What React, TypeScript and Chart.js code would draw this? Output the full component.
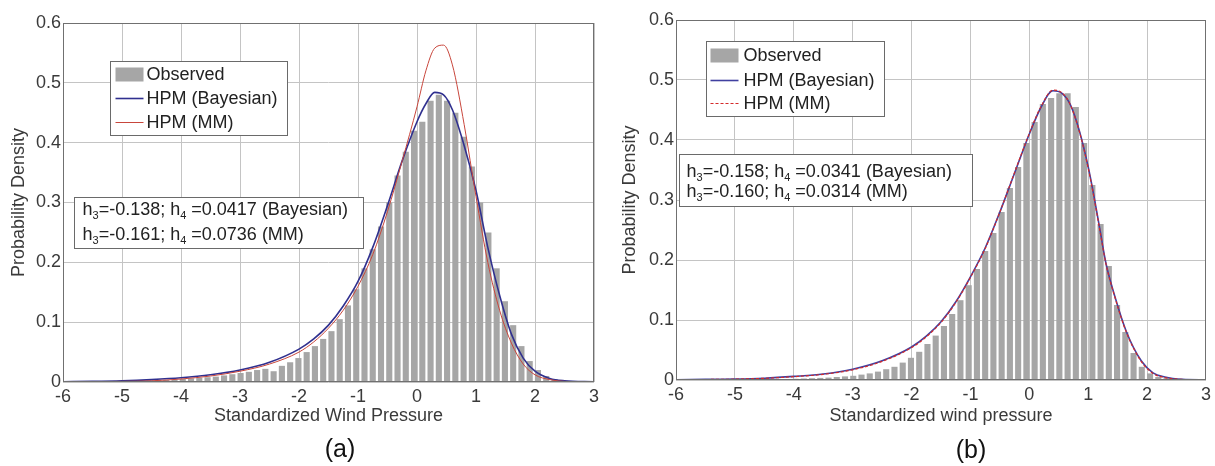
import React, { useEffect, useRef } from 'react';
import { Chart, registerables } from 'chart.js';

Chart.register(...registerables);

const FONT = '"Liberation Sans", Arial, Helvetica, sans-serif';
Chart.defaults.font.family = FONT;

// ---- axis ticks ----
const X_TICKS = [-6, -5, -4, -3, -2, -1, 0, 1, 2, 3];
const X_TICK_LABELS = ['-6', '-5', '-4', '-3', '-2', '-1', '0', '1', '2', '3'];
const Y_TICKS = [0, 0.1, 0.2, 0.3, 0.4, 0.5, 0.6];
const Y_TICK_LABELS = ['0', '0.1', '0.2', '0.3', '0.4', '0.5', '0.6'];

// ---- histogram bins (centers) ----
const BIN_CENTERS = [
  -5.93, -5.79, -5.65, -5.51, -5.37, -5.23, -5.09, -4.95, -4.81, -4.67, -4.53, -4.39, -4.25, -4.11,
  -3.97, -3.83, -3.69, -3.55, -3.41, -3.27, -3.13, -2.99, -2.85, -2.71, -2.57, -2.43, -2.29, -2.15,
  -2.01, -1.87, -1.73, -1.59, -1.45, -1.31, -1.17, -1.03, -0.89, -0.75, -0.61, -0.47, -0.33, -0.19,
  -0.05, 0.09, 0.23, 0.37, 0.51, 0.65, 0.79, 0.93, 1.07, 1.21, 1.35, 1.49, 1.63, 1.77, 1.91, 2.05,
  2.19, 2.33, 2.47, 2.61,
];

// ---- observed densities ----
const OBSERVED_A = [
  0.0005, 0.0005, 0.0008, 0.0008, 0.001, 0.001, 0.0012,
  0.0015, 0.002, 0.002, 0.0025, 0.003, 0.0035, 0.004,
  0.005, 0.006, 0.007, 0.008, 0.009, 0.011, 0.013,
  0.015, 0.017, 0.02, 0.022, 0.018, 0.027, 0.033, 0.04, 0.05, 0.06, 0.072, 0.085, 0.105, 0.128,
  0.155, 0.19, 0.222, 0.26, 0.3, 0.345, 0.385, 0.42, 0.435, 0.47, 0.48, 0.47, 0.45, 0.41, 0.36,
  0.3, 0.25, 0.19, 0.135, 0.095, 0.06, 0.035, 0.02, 0.01, 0.005, 0.003, 0.001,
];
const OBSERVED_B = [
  0.0002, 0.0002, 0.0003, 0.0003, 0.0004, 0.0004, 0.0005,
  0.0006, 0.0007, 0.0008, 0.001, 0.0012, 0.0014, 0.0017,
  0.002, 0.0025, 0.003, 0.0035, 0.004, 0.005, 0.006,
  0.007, 0.009, 0.011, 0.014, 0.018, 0.022, 0.029, 0.037, 0.047, 0.06, 0.074, 0.09, 0.11, 0.133,
  0.158, 0.185, 0.215, 0.245, 0.28, 0.32, 0.355, 0.395, 0.43, 0.46, 0.47, 0.478, 0.478, 0.455, 0.395,
  0.325, 0.26, 0.19, 0.125, 0.08, 0.045, 0.022, 0.011, 0.005, 0.003, 0.001, 0.0005,
];

// ---- fitted HPM curves ----
const CURVE_X_A = [-6, -5.5, -5, -4.5, -4, -3.5, -3, -2.5, -2, -1.75, -1.5, -1.25, -1, -0.75, -0.5, -0.25, 0, 0.15, 0.3, 0.45, 0.6, 0.8, 1, 1.2, 1.4, 1.6, 1.8, 2, 2.25, 2.5, 3];
const BAYES_A = [0.0005, 0.001, 0.002, 0.004, 0.007, 0.012, 0.02, 0.033, 0.055, 0.072, 0.095, 0.127, 0.168, 0.225, 0.295, 0.37, 0.435, 0.465, 0.484, 0.48, 0.455, 0.395, 0.32, 0.225, 0.145, 0.08, 0.04, 0.018, 0.006, 0.002, 0.0003];
const MM_A = [0.0003, 0.0006, 0.001, 0.002, 0.005, 0.01, 0.018, 0.03, 0.05, 0.067, 0.09, 0.12, 0.16, 0.213, 0.285, 0.37, 0.46, 0.52, 0.558, 0.563, 0.53, 0.43, 0.31, 0.2, 0.12, 0.065, 0.03, 0.012, 0.004, 0.001, 0.0001];

const CURVE_X_B = [-6, -5.5, -5, -4.5, -4, -3.5, -3, -2.5, -2, -1.75, -1.5, -1.25, -1, -0.75, -0.5, -0.25, 0, 0.2, 0.4, 0.55, 0.7, 0.85, 1, 1.1, 1.2, 1.3, 1.45, 1.65, 1.9, 2.1, 2.3, 2.6, 3];
const BAYES_B = [0.0005, 0.001, 0.0015, 0.003, 0.006, 0.01, 0.018, 0.032, 0.055, 0.073, 0.097, 0.13, 0.172, 0.22, 0.28, 0.345, 0.41, 0.455, 0.482, 0.478, 0.458, 0.415, 0.355, 0.305, 0.25, 0.195, 0.14, 0.08, 0.032, 0.012, 0.005, 0.001, 0.0002];
const MM_B = [0.0004, 0.0008, 0.0014, 0.0028, 0.0055, 0.0095, 0.017, 0.031, 0.054, 0.072, 0.096, 0.129, 0.171, 0.219, 0.28, 0.346, 0.411, 0.456, 0.483, 0.479, 0.458, 0.414, 0.353, 0.303, 0.248, 0.194, 0.139, 0.079, 0.031, 0.011, 0.004, 0.001, 0.0001];

// ---- texts ----
const LEGEND_LABELS = ['Observed', 'HPM (Bayesian)', 'HPM (MM)'];
const METHODS = ['Bayesian', 'MM'];
const H3_A = ['-0.138', '-0.161'];
const H4_A = ['0.0417', '0.0736'];
const H3_B = ['-0.158', '-0.160'];
const H4_B = ['0.0341', '0.0314'];
const Y_TITLE = 'Probability Density';
const X_TITLE_A = 'Standardized Wind Pressure';
const X_TITLE_B = 'Standardized wind pressure';
const CAPTIONS = ['(a)', '(b)'];

const BAR_COLOR = '#a6a6a6';
const TEXT_COLOR = '#3a3a3a';

type PanelCfg = {
  left: number;
  padTop: number;
  padRight: number;
  yWidth: number;
  xHeight: number;
  yTitlePad: number;
  xTitlePad: number;
  xTitle: string;
  caption: string;
  captionX: number;
  captionY: number;
  obs: number[];
  curveX: number[];
  bayes: number[];
  mm: number[];
  h3: string[];
  h4: string[];
  bayesColor: string;
  mmColor: string;
  mmWidth: number;
  mmDash: number[];
  legend: { dx: number; dy: number; w: number; h: number; rows: number[]; swX: number; swW: number; textX: number };
  annot: { dx: number; dy: number; w: number; h: number; rows: number[]; textX: number };
};

const PANELS: PanelCfg[] = [
  {
    left: 0, padTop: 23, padRight: 11, yWidth: 63, xHeight: 84, yTitlePad: 8, xTitlePad: 39,
    xTitle: X_TITLE_A, caption: CAPTIONS[0], captionX: 340, captionY: 450,
    obs: OBSERVED_A, curveX: CURVE_X_A, bayes: BAYES_A, mm: MM_A, h3: H3_A, h4: H4_A,
    bayesColor: '#30308f', mmColor: '#c8463c', mmWidth: 1, mmDash: [],
    legend: { dx: 47, dy: 38, w: 177, h: 74, rows: [13, 37, 61], swX: 5, swW: 28, textX: 36 },
    annot: { dx: 11, dy: 174, w: 289, h: 51, rows: [13, 38], textX: 8 },
  },
  {
    left: 610, padTop: 20, padRight: 6, yWidth: 66, xHeight: 86, yTitlePad: 9, xTitlePad: 39,
    xTitle: X_TITLE_B, caption: CAPTIONS[1], captionX: 361, captionY: 451,
    obs: OBSERVED_B, curveX: CURVE_X_B, bayes: BAYES_B, mm: MM_B, h3: H3_B, h4: H4_B,
    bayesColor: '#4040a0', mmColor: '#d42a2a', mmWidth: 1.2, mmDash: [3, 2],
    legend: { dx: 30, dy: 21, w: 178, h: 75, rows: [14, 39, 62], swX: 4, swW: 28, textX: 37 },
    annot: { dx: 3, dy: 134, w: 293, h: 52, rows: [18, 38], textX: 7 },
  },
];

function drawRich(ctx: CanvasRenderingContext2D, x: number, y: number, parts: { t: string; sub?: boolean }[], size: number) {
  let cx = x;
  for (const p of parts) {
    if (p.sub) {
      ctx.font = `${Math.round(size * 0.62)}px ${FONT}`;
      ctx.fillText(p.t, cx, y + size * 0.3);
    } else {
      ctx.font = `${size}px ${FONT}`;
      ctx.fillText(p.t, cx, y);
    }
    cx += ctx.measureText(p.t).width;
  }
}

function Panel({ cfg }: { cfg: PanelCfg }) {
  const ref = useRef<HTMLCanvasElement>(null);

  useEffect(() => {
    const c = cfg;
    const overlay = {
      id: 'overlay',
      afterDraw(chart: any) {
        const { ctx, chartArea: ca } = chart;
        ctx.save();
        // frame
        ctx.strokeStyle = '#707070';
        ctx.lineWidth = 1;
        ctx.setLineDash([]);
        ctx.strokeRect(Math.round(ca.left) + 0.5, Math.round(ca.top) + 0.5, Math.round(ca.right - ca.left) - 1, Math.round(ca.bottom - ca.top) - 1);

        // legend
        const L = c.legend;
        const lx = Math.round(ca.left + L.dx) + 0.5;
        const ly = Math.round(ca.top + L.dy) + 0.5;
        ctx.fillStyle = '#ffffff';
        ctx.fillRect(lx, ly, L.w, L.h);
        ctx.strokeStyle = '#6a6a6a';
        ctx.strokeRect(lx, ly, L.w, L.h);
        ctx.textBaseline = 'middle';
        ctx.textAlign = 'left';
        // observed swatch
        ctx.fillStyle = BAR_COLOR;
        ctx.fillRect(lx + L.swX, ly + L.rows[0] - 7, L.swW, 14);
        // bayes swatch
        ctx.strokeStyle = c.bayesColor;
        ctx.lineWidth = 1.6;
        ctx.beginPath();
        ctx.moveTo(lx + L.swX, ly + L.rows[1]);
        ctx.lineTo(lx + L.swX + L.swW, ly + L.rows[1]);
        ctx.stroke();
        // mm swatch
        ctx.strokeStyle = c.mmColor;
        ctx.lineWidth = c.mmWidth;
        ctx.setLineDash(c.mmDash);
        ctx.beginPath();
        ctx.moveTo(lx + L.swX, ly + L.rows[2]);
        ctx.lineTo(lx + L.swX + L.swW, ly + L.rows[2]);
        ctx.stroke();
        ctx.setLineDash([]);
        ctx.fillStyle = '#222222';
        ctx.font = `18px ${FONT}`;
        LEGEND_LABELS.forEach((t, i) => ctx.fillText(t, lx + L.textX, ly + L.rows[i] + 1));

        // annotation
        const A = c.annot;
        const ax = Math.round(ca.left + A.dx) + 0.5;
        const ay = Math.round(ca.top + A.dy) + 0.5;
        ctx.fillStyle = '#ffffff';
        ctx.fillRect(ax, ay, A.w, A.h);
        ctx.strokeStyle = '#6a6a6a';
        ctx.lineWidth = 1;
        ctx.strokeRect(ax, ay, A.w, A.h);
        ctx.fillStyle = '#222222';
        METHODS.forEach((m, i) => {
          drawRich(ctx, ax + A.textX, ay + A.rows[i], [
            { t: 'h' },
            { t: '3', sub: true },
            { t: `=${c.h3[i]}; h` },
            { t: '4', sub: true },
            { t: ` =${c.h4[i]} (${m})` },
          ], 18);
        });

        // caption
        ctx.font = `25px ${FONT}`;
        ctx.textAlign = 'center';
        ctx.textBaseline = 'middle';
        ctx.fillStyle = '#111111';
        ctx.fillText(c.caption, c.captionX, c.captionY);
        ctx.restore();
      },
    };

    const chart = new Chart(ref.current as HTMLCanvasElement, {
      type: 'bar',
      data: {
        datasets: [
          {
            type: 'line',
            label: LEGEND_LABELS[2],
            data: c.curveX.map((x, i) => ({ x, y: c.mm[i] })),
            borderColor: c.mmColor,
            borderWidth: c.mmWidth,
            borderDash: c.mmDash,
            pointRadius: 0,
            cubicInterpolationMode: 'monotone',
            order: 1,
          } as any,
          {
            type: 'line',
            label: LEGEND_LABELS[1],
            data: c.curveX.map((x, i) => ({ x, y: c.bayes[i] })),
            borderColor: c.bayesColor,
            borderWidth: 1.6,
            pointRadius: 0,
            cubicInterpolationMode: 'monotone',
            order: 2,
          } as any,
          {
            type: 'bar',
            label: LEGEND_LABELS[0],
            data: BIN_CENTERS.map((x, i) => ({ x, y: c.obs[i] })),
            backgroundColor: BAR_COLOR,
            borderWidth: 0,
            barPercentage: 0.74,
            categoryPercentage: 1,
            order: 3,
          } as any,
        ],
      },
      options: {
        responsive: false,
        maintainAspectRatio: false,
        animation: false,
        devicePixelRatio: 1,
        layout: { padding: { top: c.padTop, right: c.padRight, left: 0, bottom: 0 } },
        plugins: { legend: { display: false }, tooltip: { enabled: false } },
        scales: {
          x: {
            type: 'linear',
            min: -6,
            max: 3,
            offset: false,
            afterBuildTicks: (s: any) => { s.ticks = X_TICKS.map((v) => ({ value: v })); },
            ticks: {
              callback: (_v: any, i: number) => X_TICK_LABELS[i],
              font: { size: 18, family: FONT },
              color: TEXT_COLOR,
              padding: 4,
              maxRotation: 0,
              autoSkip: false,
            },
            grid: { color: '#c4c4c4', drawTicks: false, offset: false },
            border: { display: false },
            title: { display: true, text: c.xTitle, font: { size: 18, family: FONT }, color: TEXT_COLOR, padding: { top: 0, bottom: c.xTitlePad } },
            afterFit: (s: any) => { s.height = c.xHeight; },
          },
          y: {
            type: 'linear',
            min: 0,
            max: 0.6,
            afterBuildTicks: (s: any) => { s.ticks = Y_TICKS.map((v) => ({ value: v })); },
            ticks: {
              callback: (_v: any, i: number) => Y_TICK_LABELS[i],
              font: { size: 18, family: FONT },
              color: TEXT_COLOR,
              padding: 2,
              autoSkip: false,
            },
            grid: { color: '#c4c4c4', drawTicks: false },
            border: { display: false },
            title: { display: true, text: Y_TITLE, font: { size: 18, family: FONT }, color: TEXT_COLOR, padding: { top: c.yTitlePad, bottom: 0 } },
            afterFit: (s: any) => { s.width = c.yWidth; },
          },
        },
      } as any,
      plugins: [overlay],
    });
    return () => chart.destroy();
  }, [cfg]);

  return (
    <canvas
      ref={ref}
      width={605}
      height={466}
      style={{ position: 'absolute', left: cfg.left, top: 0, width: 605, height: 466 }}
    />
  );
}

export default function App() {
  return (
    <div style={{ position: 'fixed', left: 0, top: 0, width: 1215, height: 466, background: '#ffffff', overflow: 'hidden' }}>
      {PANELS.map((p, i) => (
        <Panel key={i} cfg={p} />
      ))}
    </div>
  );
}
